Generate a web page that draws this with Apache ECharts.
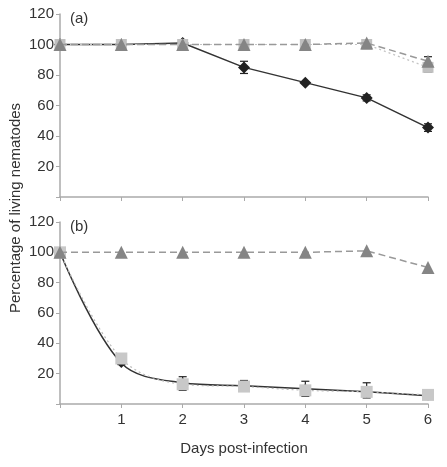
<!DOCTYPE html>
<html><head><meta charset="utf-8">
<script src="https://cdn.jsdelivr.net/npm/echarts@6/dist/echarts.min.js"></script>
<style>html,body{margin:0;padding:0;background:#fff}#c{width:447px;height:467px}</style>
</head><body><div id="c"></div>
<script>
const days = [0, 1, 2, 3, 4, 5, 6];
const yTicks = [20, 40, 60, 80, 100, 120];
// Panel (a)
const aBlack = [100, 100, 101, 85, 75, 65, 45.5];
const aTriangle = [100, 100, 100, 100, 100, 101, 89];
const aSquare = [100, 100, 100, 100, 100, 100, 85];
// error bars [day, low, high]
const aErr = [[3, 81, 89], [5, 63, 67], [6, 43, 48], [6, 82, 92]];
// Panel (b)
const bBlack = [100, 27, 14, 12, 10, 8, 5.5];
const bSquare = [100, 30, 13, 11.5, 9, 8, 6];
const bTriangle = [100, 100, 100, 100, 100, 101, 90];
const bErr = [[1, 26, 30], [2, 9, 18], [3, 10, 15.5], [4, 5, 15], [5, 4, 14], [6, 4, 8]];

const font = '"Liberation Sans", Arial, sans-serif';
const pair = (arr) => days.map((d, i) => [d, arr[i]]);

function errSeries(data, xi, yi) {
  return {
    type: 'custom', xAxisIndex: xi, yAxisIndex: yi, z: 3,
    data: data,
    renderItem: function (params, api) {
      const x = api.value(0);
      const lo = api.coord([x, api.value(1)]);
      const hi = api.coord([x, api.value(2)]);
      const w = 4;
      const st = { stroke: '#222', lineWidth: 1.2 };
      return {
        type: 'group', children: [
          { type: 'line', shape: { x1: lo[0], y1: lo[1], x2: hi[0], y2: hi[1] }, style: st },
          { type: 'line', shape: { x1: lo[0] - w, y1: lo[1], x2: lo[0] + w, y2: lo[1] }, style: st },
          { type: 'line', shape: { x1: hi[0] - w, y1: hi[1], x2: hi[0] + w, y2: hi[1] }, style: st }
        ]
      };
    }
  };
}

const xAxisBase = {
  type: 'value', min: 0, max: 6, interval: 1,
  axisLine: { lineStyle: { color: '#aaa', width: 1.5 } },
  axisTick: { lineStyle: { color: '#aaa' }, length: 4 },
  splitLine: { show: false }
};
const yAxisBase = {
  type: 'value', min: 0, max: 120, interval: 20,
  axisLine: { show: true, lineStyle: { color: '#aaa', width: 1.5 } },
  axisTick: { show: true, inside: false, lineStyle: { color: '#aaa' }, length: 4 },
  splitLine: { show: false },
  axisLabel: {
    color: '#333', fontSize: 15, fontFamily: font, margin: 6,
    formatter: v => (yTicks.indexOf(v) >= 0 ? String(v) : '')
  }
};

const chart = echarts.init(document.getElementById('c'), null, { renderer: 'canvas' });
chart.setOption({
  animation: false,
  backgroundColor: '#fff',
  grid: [
    { left: 60, right: 19, top: 14, height: 183 },
    { left: 60, right: 19, top: 222, height: 182 }
  ],
  xAxis: [
    Object.assign({}, xAxisBase, { gridIndex: 0, axisLabel: { show: false } }),
    Object.assign({}, xAxisBase, {
      gridIndex: 1,
      axisLabel: { color: '#333', fontSize: 15, fontFamily: font, margin: 8, formatter: v => (v === 0 ? '' : String(v)) },
      name: 'Days post-infection', nameLocation: 'middle', nameGap: 37,
      nameTextStyle: { color: '#333', fontSize: 15, fontFamily: font }
    })
  ],
  yAxis: [
    Object.assign({}, yAxisBase, { gridIndex: 0 }),
    Object.assign({}, yAxisBase, { gridIndex: 1 })
  ],
  graphic: [
    { type: 'text', left: 70, top: 11, style: { text: '(a)', fill: '#333', font: '15px ' + font } },
    { type: 'text', left: 70, top: 219, style: { text: '(b)', fill: '#333', font: '15px ' + font } },
    { type: 'text', x: 16, y: 208, rotation: Math.PI / 2,
      style: { text: 'Percentage of living nematodes', fill: '#333', font: '15px ' + font, align: 'center', verticalAlign: 'middle' } }
  ],
  series: [
    // Panel (a)
    { type: 'line', xAxisIndex: 0, yAxisIndex: 0, data: pair(aBlack), symbol: 'diamond', symbolSize: 12,
      lineStyle: { color: '#333', width: 1.5 }, itemStyle: { color: '#222' }, z: 2 },
    errSeries(aErr, 0, 0),
    { type: 'line', xAxisIndex: 0, yAxisIndex: 0, data: pair(aSquare), symbol: 'rect', symbolSize: 11,
      lineStyle: { color: '#c4c4c4', width: 1.2, type: [2, 3] }, itemStyle: { color: '#c0c0c0' }, z: 4 },
    { type: 'line', xAxisIndex: 0, yAxisIndex: 0, data: pair(aTriangle), symbol: 'triangle', symbolSize: 13,
      lineStyle: { color: '#999', width: 1.5, type: [7, 4] }, itemStyle: { color: '#858585' }, z: 5 },
    // Panel (b)
    { type: 'line', xAxisIndex: 1, yAxisIndex: 1, data: pair(bBlack), symbol: 'diamond', symbolSize: 10, smooth: 0.35,
      lineStyle: { color: '#333', width: 1.5 }, itemStyle: { color: '#222' }, z: 2 },
    errSeries(bErr, 1, 1),
    { type: 'line', xAxisIndex: 1, yAxisIndex: 1, data: pair(bSquare), symbol: 'rect', symbolSize: 12, smooth: 0.35,
      lineStyle: { color: '#bbb', width: 1.2, type: [2, 3] }, itemStyle: { color: '#c8c8c8' }, z: 4 },
    { type: 'line', xAxisIndex: 1, yAxisIndex: 1, data: pair(bTriangle), symbol: 'triangle', symbolSize: 13,
      lineStyle: { color: '#999', width: 1.5, type: [7, 4] }, itemStyle: { color: '#858585' }, z: 5 }
  ]
});
</script></body></html>
